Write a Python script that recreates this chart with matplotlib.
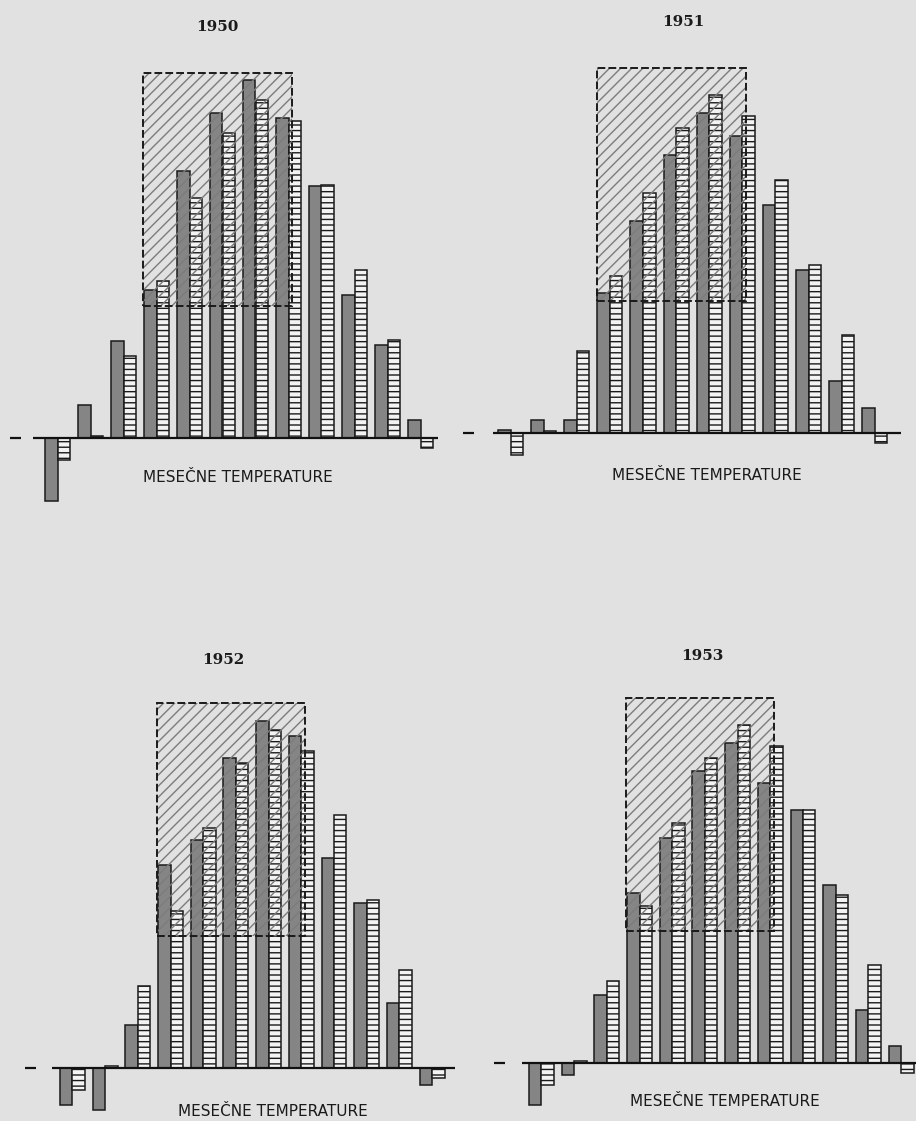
import numpy as np
import matplotlib.pyplot as plt
from matplotlib.patches import Rectangle

# monthly mean temperatures in deg C
months = ['I', 'II', 'III', 'IV', 'V', 'VI', 'VII', 'VIII', 'IX', 'X', 'XI', 'XII']
normal = [-1.3, 0.1, 4.9, 9.4, 14.4, 18.3, 20.3, 19.0, 15.2, 10.1, 5.9, -0.6]   # long term mean
t1950 = [-3.8, 2.0, 5.8, 8.9, 16.0, 19.5, 21.5, 19.2, 15.1, 8.6, 5.6, 1.1]
t1951 = [0.2, 0.8, 0.8, 8.4, 12.7, 16.7, 19.2, 17.8, 13.7, 9.8, 3.1, 1.5]
t1952 = [-2.2, -2.5, 2.6, 12.2, 13.7, 18.6, 20.8, 19.9, 12.6, 9.9, 3.9, -1.0]
t1953 = [-2.5, -0.7, 4.1, 10.2, 13.5, 17.5, 19.2, 16.8, 15.2, 10.7, 3.2, 1.0]
years = ['1950', '1951', '1952', '1953']
year_temps = [t1950, t1951, t1952, t1953]
box_low, box_high = 7.9, 21.9      # hatched box, April - August
xlabel = 'MESEČNE TEMPERATURE'

W, H = 916, 1121
PX_DEG = 16.66                     # pixels per degree
BAR_W = 0.38

# panel layout in pixels: box, x of first month, month spacing, baseline,
# axis line start/end, title pos, label pos
panels = [
    dict(box=(0, 0, 458, 560), x0=57.5, sp=33.0, base=438, line=(33, 438), title=(217, 27), label=(238, 477)),
    dict(box=(458, 0, 916, 560), x0=510.6, sp=33.1, base=433, line=(493, 901), title=(683, 22), label=(707, 475)),
    dict(box=(0, 560, 458, 1121), x0=72.4, sp=32.7, base=1068, line=(52, 455), title=(223, 660), label=(273, 1112)),
    dict(box=(458, 560, 916, 1121), x0=541.4, sp=32.7, base=1063, line=(522, 916), title=(702, 656), label=(725, 1101)),
]

plt.rcParams['hatch.linewidth'] = 1.0
fig = plt.figure(figsize=(W / 100, H / 100), dpi=100, facecolor='#e1e1e1')

x = np.arange(len(months))
for year, temps, p in zip(years, year_temps, panels):
    l, t, r, b = p['box']
    ax = fig.add_axes([l / W, 1 - b / H, (r - l) / W, (b - t) / H])
    ax.set_xlim((l - p['x0']) / p['sp'], (r - p['x0']) / p['sp'])
    ax.set_ylim((p['base'] - b) / PX_DEG, (p['base'] - t) / PX_DEG)
    ax.axis('off')

    def px(xp, yp):
        return (xp - p['x0']) / p['sp'], (p['base'] - yp) / PX_DEG

    # year bars (dark) and long-term mean (striped)
    ax.bar(x - BAR_W / 2, temps, BAR_W, color='#858585', edgecolor='#1a1a1a', lw=1.1, zorder=2)
    ax.bar(x + BAR_W / 2, normal, BAR_W, color='#f3f3f3', edgecolor='#1a1a1a', lw=1.1,
           hatch='---', zorder=2)

    # hatched box over April..August
    bx0, bx1 = 2.6, 7.1
    ax.add_patch(Rectangle((bx0, box_low), bx1 - bx0, box_high - box_low, facecolor='none',
                           edgecolor='#7c7c7c', hatch='///', lw=0, zorder=3))
    ax.add_patch(Rectangle((bx0, box_low), bx1 - bx0, box_high - box_low, fill=False,
                           edgecolor='#1a1a1a', lw=1.4, ls=(0, (4, 1.6)), zorder=4))

    # zero line and the little dash left of it
    xa, _ = px(p['line'][0], 0)
    xb, _ = px(p['line'][1], 0)
    ax.plot([xa, xb], [0, 0], color='#111111', lw=1.6, zorder=5, solid_capstyle='butt')
    ax.plot([-1.45, -1.1], [0, 0], color='#111111', lw=1.6, zorder=5, solid_capstyle='butt')

    tx, ty = px(*p['title'])
    ax.text(tx, ty, year, ha='center', va='center', fontsize=11, fontweight='bold',
            family='DejaVu Serif', color='#1a1a1a')
    lx, ly = px(*p['label'])
    ax.text(lx, ly, xlabel, ha='center', va='center', fontsize=11, color='#1a1a1a')

fig.savefig('out.png', dpi=100, facecolor=fig.get_facecolor())
